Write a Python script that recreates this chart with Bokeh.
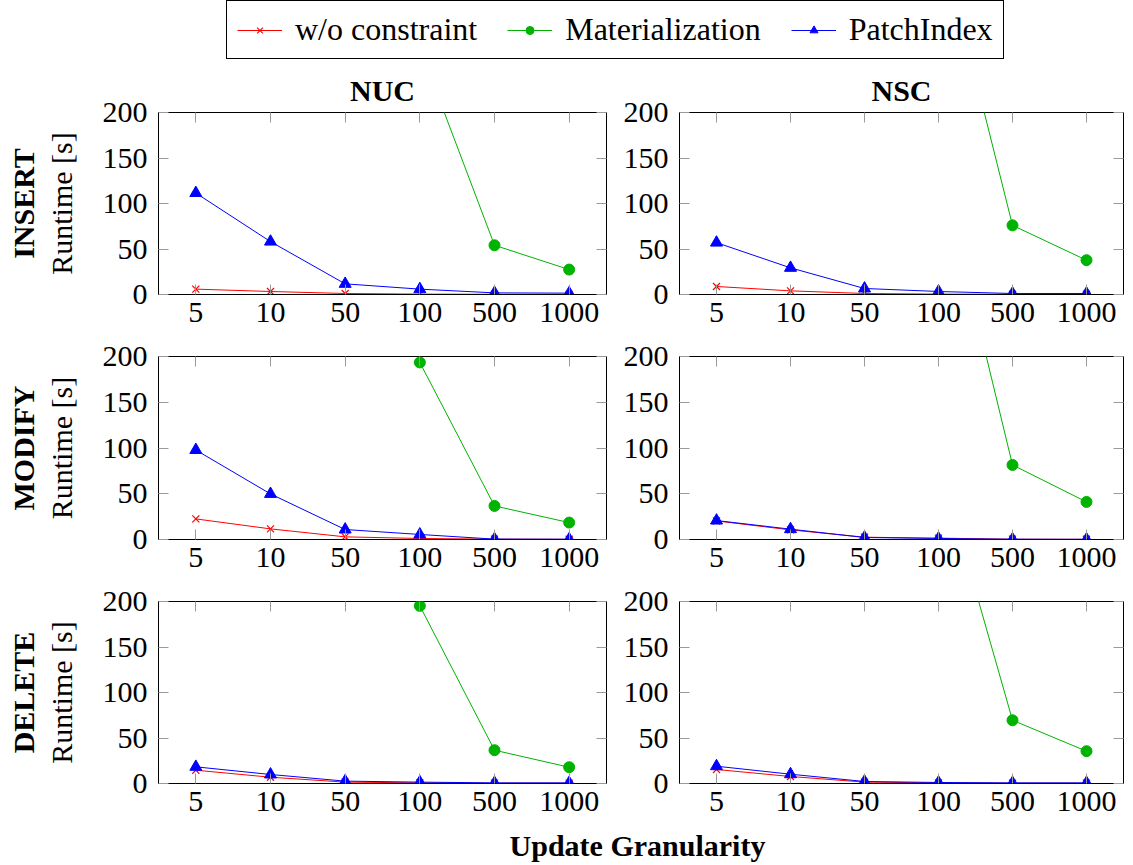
import numpy as np
from bokeh.plotting import figure
from bokeh.layouts import column, row
from bokeh.models import (ColumnDataSource, FactorRange, Range1d, FixedTicker, LinearAxis,
                          CategoricalAxis, Legend, LegendItem, Label, CustomLabelingPolicy)
from bokeh.embed import file_html
from bokeh.resources import INLINE

nan = float("nan")

granularity = ["5", "10", "50", "100", "500", "1000"]
y_ticks = [0, 50, 100, 150, 200]
series_names = ["w/o constraint", "Materialization", "PatchIndex"]
col_titles = ["NUC", "NSC"]
row_titles = ["INSERT", "MODIFY", "DELETE"]
x_title = "Update Granularity"
y_title = "Runtime [s]"

nuc_insert_wo = [5.9, 3.3, 1.1, 0.4, 0.2, 0.1]
nuc_insert_mat = [nan, nan, nan, 271, 54.1, 27.4]
nuc_insert_pi = [111.5, 58.1, 11.7, 5.9, 1.8, 1.5]

nsc_insert_wo = [8.8, 4.0, 1.1, 0.4, 0.2, 0.2]
nsc_insert_mat = [nan, nan, nan, 401, 76.0, 37.7]
nsc_insert_pi = [57.0, 29.3, 6.6, 3.3, 1.1, 1.1]

nuc_modify_wo = [22.5, 11.6, 2.9, 1.1, 0.4, 0.2]
nuc_modify_mat = [nan, nan, nan, 193.5, 36.7, 18.5]
nuc_modify_pi = [97.8, 49.8, 10.9, 5.5, 0.4, 0.3]

nsc_modify_wo = [20.3, 10.5, 2.5, 1.5, 0.3, 0.2]
nsc_modify_mat = [nan, nan, nan, 416, 81.5, 41.1]
nsc_modify_pi = [20.7, 11.3, 2.2, 1.1, 0.3, 0.2]

nuc_delete_wo = [14.6, 6.9, 1.5, 0.7, 0.3, 0.3]
nuc_delete_mat = [nan, nan, nan, 195.2, 36.6, 17.9]
nuc_delete_pi = [18.3, 9.9, 2.6, 1.5, 0.7, 0.7]

nsc_delete_wo = [15.4, 7.7, 1.5, 0.7, 0.3, 0.3]
nsc_delete_mat = [nan, nan, nan, 355, 69.5, 35.5]
nsc_delete_pi = [19.0, 10.2, 2.2, 1.1, 0.7, 0.7]

FONT = "Liberation Serif"
FS = "30px"
TICK_GRAY = "#9a9a9a"
RED, GREEN, BLUE = "#ff0000", "#00b300", "#0000ff"

# per-row figure geometry: (height, top border, bottom border)
row_geom = [(275, 50, 43), (245, 19, 43), (245, 19, 44)]
# per-column geometry: (width, left border, right border)
col_geom = [(620, 158, 14), (513, 58, 10)]


def no_labels():
    return CustomLabelingPolicy(code="return []")


def add_series(p, src):
    r = []
    r.append(p.line("x", "wo", source=src, line_color=RED, line_width=1))
    r.append(p.scatter("x", "wo", source=src, marker="x", size=10, line_color=RED,
                       line_width=1.2))
    r.append(p.line("x", "mat", source=src, line_color=GREEN, line_width=1))
    r.append(p.scatter("x", "mat", source=src, marker="circle", size=11, fill_color=GREEN,
                       line_color=GREEN))
    r.append(p.line("x", "pi", source=src, line_color=BLUE, line_width=1))
    r.append(p.scatter("x", "pi", source=src, marker="triangle", size=12, fill_color=BLUE,
                       line_color=BLUE))
    return r


def make_src(wo, mat, pi):
    return ColumnDataSource(dict(x=granularity, wo=np.array(wo, dtype=float),
                                 mat=np.array(mat, dtype=float), pi=np.array(pi, dtype=float)))


def make_panel(r, c, wo, mat, pi):
    h, bt, bb = row_geom[r]
    w, bl, br = col_geom[c]
    p = figure(width=w, height=h, x_range=FactorRange(*granularity),
               y_range=Range1d(0, 200), output_backend="svg", toolbar_location=None,
               min_border_left=bl, min_border_right=br, min_border_top=bt,
               min_border_bottom=bb)
    p.xgrid.visible = False
    p.ygrid.visible = False
    p.outline_line_color = "black"
    p.outline_line_alpha = 1.0
    p.outline_line_width = 1
    p.background_fill_color = "white"
    p.border_fill_color = "white"

    xa = p.xaxis[0]
    xa.major_tick_in = 10
    xa.major_tick_out = 0
    xa.major_tick_line_color = TICK_GRAY
    xa.axis_line_color = "black"
    xa.major_label_text_font = FONT
    xa.major_label_text_font_size = FS
    xa.major_label_text_color = "black"
    xa.major_label_standoff = 8

    ya = p.yaxis[0]
    ya.ticker = FixedTicker(ticks=y_ticks)
    ya.minor_tick_line_color = None
    ya.major_tick_in = 10
    ya.major_tick_out = 0
    ya.major_tick_line_color = TICK_GRAY
    ya.axis_line_color = "black"
    ya.major_label_text_font = FONT
    ya.major_label_text_font_size = FS
    ya.major_label_text_color = "black"
    ya.major_label_standoff = 11

    if c == 0:
        ya.axis_label = y_title
        ya.axis_label_text_font = FONT
        ya.axis_label_text_font_size = FS
        ya.axis_label_text_font_style = "normal"
        ya.axis_label_text_color = "black"
        ya.axis_label_standoff = 22
        outer = LinearAxis(ticker=FixedTicker(ticks=[]), axis_line_color=None,
                           major_tick_line_color=None, minor_tick_line_color=None,
                           major_label_text_font_size="0px", major_label_standoff=0,
                           major_label_policy=no_labels(),
                           axis_label=row_titles[r], axis_label_text_font=FONT,
                           axis_label_text_font_size=FS, axis_label_text_font_style="bold",
                           axis_label_text_color="black", axis_label_standoff=2)
        p.add_layout(outer, "left")

    top = CategoricalAxis(major_label_text_font_size="0px", major_label_standoff=0,
                          major_label_policy=no_labels(),
                          major_tick_in=10, major_tick_out=0, major_tick_line_color=TICK_GRAY,
                          axis_line_color=None)
    p.add_layout(top, "above")
    right = LinearAxis(ticker=FixedTicker(ticks=y_ticks), major_label_text_font_size="0px",
                       major_label_standoff=0, major_label_policy=no_labels(),
                       major_tick_in=10, major_tick_out=0,
                       major_tick_line_color=TICK_GRAY, minor_tick_line_color=None,
                       axis_line_color=None)
    p.add_layout(right, "right")

    if r == 0:
        p.title.text = col_titles[c]
        p.title.align = "center"
        p.title.text_font = FONT
        p.title.text_font_size = FS
        p.title.text_font_style = "bold"
        p.title.text_color = "black"
        p.title.standoff = 11

    add_series(p, make_src(wo, mat, pi))
    return p


data = [
    [(nuc_insert_wo, nuc_insert_mat, nuc_insert_pi), (nsc_insert_wo, nsc_insert_mat, nsc_insert_pi)],
    [(nuc_modify_wo, nuc_modify_mat, nuc_modify_pi), (nsc_modify_wo, nsc_modify_mat, nsc_modify_pi)],
    [(nuc_delete_wo, nuc_delete_mat, nuc_delete_pi), (nsc_delete_wo, nsc_delete_mat, nsc_delete_pi)],
]

rows = []
for r in range(3):
    panels = [make_panel(r, c, *data[r][c]) for c in range(2)]
    rows.append(row(*panels, spacing=0))

# legend strip (renderers hold the first panel's data but sit outside the visible range)
lg = figure(width=1133, height=62, x_range=FactorRange(*granularity), y_range=Range1d(-2, -1),
            output_backend="svg", toolbar_location=None, min_border_left=0,
            min_border_right=0, min_border_top=0, min_border_bottom=0,
            x_axis_location=None, y_axis_location=None)
lg.xgrid.visible = False
lg.ygrid.visible = False
lg.outline_line_color = None
lr = add_series(lg, make_src(*data[0][0]))
legend = Legend(items=[LegendItem(label=series_names[0], renderers=[lr[0], lr[1]]),
                       LegendItem(label=series_names[1], renderers=[lr[2], lr[3]]),
                       LegendItem(label=series_names[2], renderers=[lr[4], lr[5]])],
                orientation="horizontal", location=(226, 3),
                label_text_font=FONT, label_text_font_size="32px", label_text_color="black",
                glyph_width=45, glyph_height=20, label_standoff=13, spacing=30,
                padding=10, margin=0, border_line_color="black", border_line_width=1,
                border_line_alpha=1.0, background_fill_color="white", background_fill_alpha=1.0)
lg.add_layout(legend, "center")

# bottom label strip
bl = figure(width=1133, height=38, x_range=Range1d(0, 1), y_range=Range1d(0, 1),
            output_backend="svg", toolbar_location=None, min_border_left=0,
            min_border_right=0, min_border_top=0, min_border_bottom=0,
            x_axis_location=None, y_axis_location=None)
bl.xgrid.visible = False
bl.ygrid.visible = False
bl.outline_line_color = None
bl.add_layout(Label(x=637, y=20, x_units="screen", y_units="screen", text=x_title,
                    text_align="center", text_baseline="middle", text_font=FONT,
                    text_font_size=FS, text_font_style="bold", text_color="black"))

layout = column(lg, *rows, bl, spacing=0)
open("out.html", "w").write(file_html(layout, INLINE))
